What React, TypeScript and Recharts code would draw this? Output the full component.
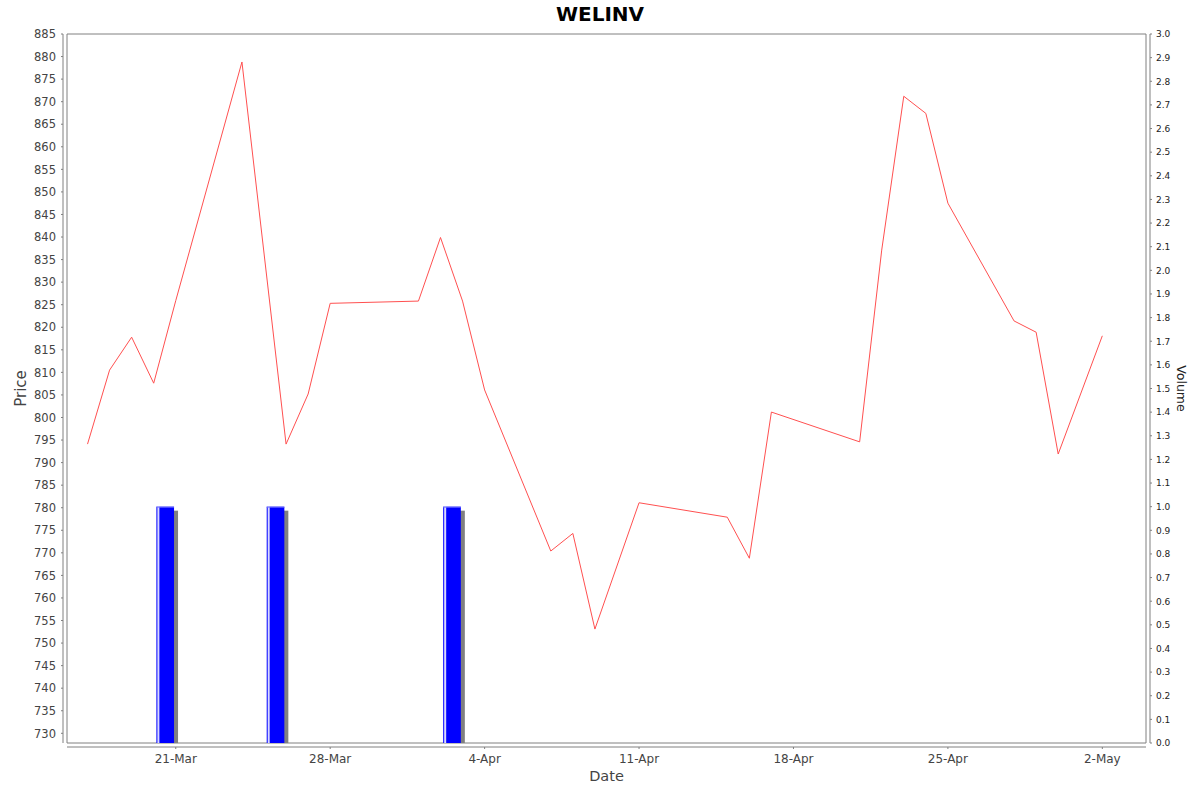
import React from 'react';
import { ComposedChart, Line, Bar, XAxis, YAxis, ReferenceArea } from 'recharts';

// ---------- data ----------
const priceDates = [
  '2024-03-17', '2024-03-18', '2024-03-19', '2024-03-20', '2024-03-21', '2024-03-24',
  '2024-03-26', '2024-03-27', '2024-03-28', '2024-04-01', '2024-04-02', '2024-04-03',
  '2024-04-04', '2024-04-07', '2024-04-08', '2024-04-09', '2024-04-11', '2024-04-15',
  '2024-04-16', '2024-04-17', '2024-04-21', '2024-04-22', '2024-04-23', '2024-04-24',
  '2024-04-25', '2024-04-28', '2024-04-29', '2024-04-30', '2024-05-02',
];
const priceValues = [
  794.1, 810.5, 817.8, 807.6, 825.9, 878.8,
  794.1, 805.2, 825.3, 825.8, 839.9, 825.8,
  806.1, 770.4, 774.3, 753.1, 781.1, 777.9,
  768.8, 801.2, 794.6, 837.1, 871.2, 867.4,
  847.5, 821.4, 818.9, 791.9, 818.1,
];
const volumeDates = ['2024-03-20', '2024-03-25', '2024-04-02'];
const volumeValues = [1.0, 1.0, 1.0];

const dateTickLabels = ['2024-03-21', '2024-03-28', '2024-04-04', '2024-04-11', '2024-04-18', '2024-04-25', '2024-05-02'];
const priceTicks = [
  730, 735, 740, 745, 750, 755, 760, 765, 770, 775, 780, 785, 790, 795, 800, 805,
  810, 815, 820, 825, 830, 835, 840, 845, 850, 855, 860, 865, 870, 875, 880, 885,
];
const volumeTicks = [
  0.0, 0.1, 0.2, 0.3, 0.4, 0.5, 0.6, 0.7, 0.8, 0.9, 1.0, 1.1, 1.2, 1.3, 1.4, 1.5,
  1.6, 1.7, 1.8, 1.9, 2.0, 2.1, 2.2, 2.3, 2.4, 2.5, 2.6, 2.7, 2.8, 2.9, 3.0,
];
const priceDomain = [727.85, 885];
const volumeDomain = [0, 3];
const viewStart = '2024-03-16';
const viewEnd = '2024-05-03';

// ---------- helpers ----------
const MONTHS = ['Jan', 'Feb', 'Mar', 'Apr', 'May', 'Jun', 'Jul', 'Aug', 'Sep', 'Oct', 'Nov', 'Dec'];
const toDay = (s: string) => {
  const [y, m, d] = s.split('-').map(Number);
  return Date.UTC(y, m - 1, d) / 86400000;
};
const fmtDay = (v: number) => {
  const dt = new Date(Math.round(v) * 86400000);
  return `${dt.getUTCDate()}-${MONTHS[dt.getUTCMonth()]}`;
};

const xMin = toDay(viewStart) + 0.07;
const xMax = toDay(viewEnd) + 0.98;

const rows: any[] = [
  ...priceDates.map((d, i) => ({ x: toDay(d), price: priceValues[i] })),
  ...volumeDates.map((d, i) => ({ x: toDay(d) + 0.5, volume: volumeValues[i] })),
].sort((a, b) => a.x - b.x);

const dateTicks = dateTickLabels.map(toDay);

const W = 1200;
const H = 792;
const LEFT_W = 67;
const RIGHT_W = 54;
const TOP = 34;
const XAXIS_H = 49;
const plotW = W - LEFT_W - RIGHT_W;
const dayPx = plotW / (xMax - xMin);
const barWidth = dayPx * 0.8;

const FONT = 'DejaVu Sans, sans-serif';
const AXIS = '#808080';

const LeftTick = (props: any) => {
  const { x, y, payload } = props;
  return (
    <g>
      <line x1={x - 4} x2={x - 6} y1={y} y2={y} stroke={AXIS} />
      <text x={x - 11} y={y} dy={4.2} textAnchor="end" fontSize={11.5} fill="#444" fontFamily={FONT}>
        {payload.value}
      </text>
    </g>
  );
};

const RightTick = (props: any) => {
  const { x, y, payload } = props;
  return (
    <g>
      <line x1={x + 4} x2={x + 6} y1={y} y2={y} stroke={AXIS} />
      <text x={x + 10} y={y} dy={3.3} textAnchor="start" fontSize={9} fill="#222" fontFamily={FONT}>
        {Number(payload.value).toFixed(1)}
      </text>
    </g>
  );
};

const BottomTick = (props: any) => {
  const { x, y, payload } = props;
  return (
    <g>
      <line x1={x} x2={x} y1={y + 4} y2={y + 6} stroke={AXIS} />
      <text x={x} y={y + 20} textAnchor="middle" fontSize={12} fill="#444" fontFamily={FONT}>
        {fmtDay(payload.value)}
      </text>
    </g>
  );
};

// Bar drawn around the centre the library gives, with the day-period width (80% of a day).
const VolumeBar = (props: any) => {
  const { x, y, width, height } = props;
  if (!height || height <= 0) return null;
  const cx = x + width / 2;
  const bx = cx - barWidth / 2;
  return (
    <g>
      <rect x={bx + 4} y={y + 4} width={barWidth} height={Math.max(0, height - 4)} fill="#808080" />
      <rect x={bx} y={y} width={barWidth} height={height} fill="#0000ff" />
      <rect x={bx + 1} y={y} width={2} height={height} fill="#ffffff" opacity={0.85} />
      <rect x={bx} y={y} width={barWidth} height={1} fill="#7070ff" />
    </g>
  );
};

export default function App() {
  return (
    <div style={{ position: 'absolute', left: 0, top: 0, width: W, height: H, background: '#fff' }}>
      <ComposedChart
        width={W}
        height={H}
        data={rows}
        margin={{ top: TOP, right: 0, bottom: 0, left: 0 }}
      >
        <XAxis
          dataKey="x"
          type="number"
          domain={[xMin, xMax]}
          allowDataOverflow
          ticks={dateTicks}
          interval={0}
          height={XAXIS_H}
          tickSize={0}
          tickMargin={0}
          tickLine={false}
          axisLine={{ stroke: AXIS, transform: 'translate(0,4)' }}
          tick={<BottomTick />}
        />
        <YAxis
          yAxisId="left"
          orientation="left"
          width={LEFT_W}
          domain={priceDomain}
          allowDataOverflow
          ticks={priceTicks}
          interval={0}
          tickSize={0}
          tickMargin={0}
          tickLine={false}
          axisLine={{ stroke: AXIS, transform: 'translate(-4,0)' }}
          tick={<LeftTick />}
        />
        <YAxis
          yAxisId="right"
          orientation="right"
          width={RIGHT_W}
          domain={volumeDomain}
          allowDataOverflow
          ticks={volumeTicks}
          interval={0}
          tickSize={0}
          tickMargin={0}
          tickLine={false}
          axisLine={{ stroke: AXIS, transform: 'translate(4,0)' }}
          tick={<RightTick />}
        />
        <ReferenceArea
          yAxisId="left"
          x1={xMin}
          x2={xMax}
          y1={priceDomain[0]}
          y2={priceDomain[1]}
          fill="none"
          fillOpacity={0}
          stroke={AXIS}
          strokeWidth={1}
          ifOverflow="visible"
        />
        <Bar
          yAxisId="right"
          dataKey="volume"
          barSize={8}
          shape={<VolumeBar />}
          isAnimationActive={false}
        />
        <Line
          yAxisId="left"
          dataKey="price"
          type="linear"
          stroke="#ff5050"
          strokeWidth={1}
          dot={false}
          activeDot={false}
          connectNulls
          isAnimationActive={false}
        />
      </ComposedChart>
      <svg
        width={W}
        height={H}
        style={{ position: 'absolute', left: 0, top: 0, pointerEvents: 'none' }}
      >
        <text x={600} y={20.5} textAnchor="middle" fontSize={20} fontWeight="bold" fill="#000" fontFamily={FONT}>
          WELINV
        </text>
        <text x={606.5} y={781} textAnchor="middle" fontSize={14.5} fill="#444" fontFamily={FONT}>
          Date
        </text>
        <text
          transform="translate(26,388.5) rotate(-90)"
          textAnchor="middle"
          fontSize={15}
          fill="#444"
          fontFamily={FONT}
        >
          Price
        </text>
        <text
          transform="translate(1177,388.5) rotate(90)"
          textAnchor="middle"
          fontSize={12.5}
          fill="#222"
          fontFamily={FONT}
        >
          Volume
        </text>
      </svg>
    </div>
  );
}
